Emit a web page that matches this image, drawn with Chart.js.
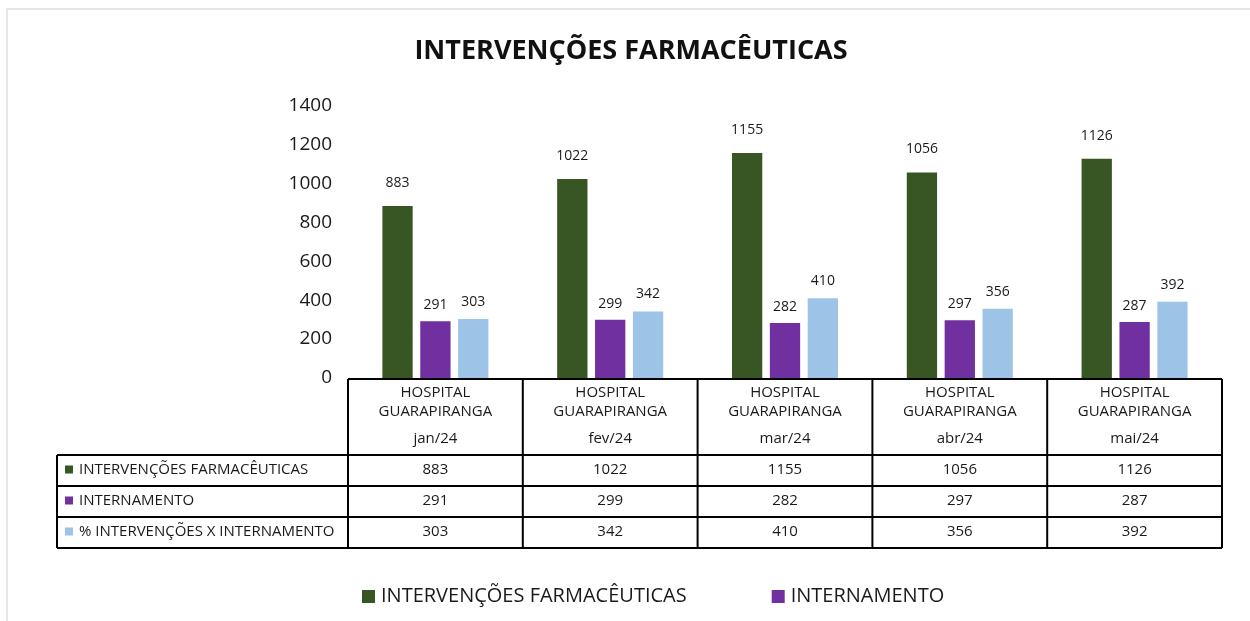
<!DOCTYPE html>
<html>
<head>
<meta charset="utf-8">
<title>Intervenções Farmacêuticas</title>
<script src="https://cdn.jsdelivr.net/npm/chart.js@4.4.1/dist/chart.umd.min.js"></script>
<style>
    html, body { margin: 0; padding: 0; background: #fff; }
    #wrap { position: relative; width: 1250px; height: 621px; }
</style>
</head>
<body>
<div id="wrap"><canvas id="interv_chart"></canvas></div>
<script>
var meses = ["jan/24", "fev/24", "mar/24", "abr/24", "mai/24"];
var hospital = ["HOSPITAL", "GUARAPIRANGA"];
var intervencoes = [883, 1022, 1155, 1056, 1126];
var internamento = [291, 299, 282, 297, 287];
var percIntervInter = [303, 342, 410, 356, 392];
var yTicks = [0, 200, 400, 600, 800, 1000, 1200, 1400];
var seriesNames = ["INTERVENÇÕES FARMACÊUTICAS", "INTERNAMENTO", "% INTERVENÇÕES X INTERNAMENTO"];
var barColors = ["#375623", "#7030A0", "#9DC3E6"];

var fontFamily = "'Open Sans', 'DejaVu Sans', sans-serif";
var textColor = "#1a1a1a";

// labels above the bars, table under the axis, legend at the bottom
var tabelaPlugin = {
    id: "tabelaDados",
    beforeDraw: function(chart) {
        var ctx = chart.ctx;
        ctx.save();
        ctx.fillStyle = "#e6e6e6";
        ctx.fillRect(6, 8, chart.width - 6, 2);
        ctx.fillRect(6, 8, 2, chart.height - 8);
        ctx.restore();
    },
    afterDatasetsDraw: function(chart) {
        var ctx = chart.ctx;
        var offsets = [23, 16, 17];
        ctx.save();
        ctx.font = "14px " + fontFamily;
        ctx.fillStyle = textColor;
        ctx.textAlign = "center";
        ctx.textBaseline = "middle";
        chart.data.datasets.forEach(function(ds, i) {
            var meta = chart.getDatasetMeta(i);
            meta.data.forEach(function(bar, j) {
                ctx.fillText(String(ds.data[j]), bar.x, bar.y - offsets[i]);
            });
        });
        ctx.restore();
    },
    afterDraw: function(chart) {
        var ctx = chart.ctx;
        var ca = chart.chartArea;
        var xs = chart.scales.x;
        var n = meses.length;
        var colW = (ca.right - ca.left) / n;
        var top = ca.bottom + 1;
        var headBottom = 455;
        var rowH = 31;
        var labelLeft = 57;
        var bottom = headBottom + rowH * 3;
        var rows = [intervencoes, internamento, percIntervInter];

        ctx.save();
        ctx.strokeStyle = "#000";
        ctx.lineWidth = 2;
        ctx.beginPath();
        ctx.moveTo(ca.left, top);
        ctx.lineTo(ca.right, top);
        for (var r = 0; r <= 3; r++) {
            ctx.moveTo(labelLeft, headBottom + r * rowH);
            ctx.lineTo(ca.right, headBottom + r * rowH);
        }
        for (var c = 0; c <= n; c++) {
            ctx.moveTo(ca.left + c * colW, top);
            ctx.lineTo(ca.left + c * colW, bottom);
        }
        ctx.moveTo(labelLeft, headBottom);
        ctx.lineTo(labelLeft, bottom);
        ctx.stroke();

        ctx.font = "15px " + fontFamily;
        ctx.fillStyle = textColor;
        ctx.textAlign = "center";
        ctx.textBaseline = "middle";
        for (var k = 0; k < n; k++) {
            var cx = xs.getPixelForValue(k);
            ctx.fillText(hospital[0], cx, 393);
            ctx.fillText(hospital[1], cx, 412);
            ctx.fillText(meses[k], cx, 439);
            for (var r2 = 0; r2 < rows.length; r2++) {
                ctx.fillText(String(rows[r2][k]), cx, headBottom + r2 * rowH + rowH / 2 - 1);
            }
        }

        ctx.textAlign = "left";
        for (var s = 0; s < seriesNames.length; s++) {
            var cy = headBottom + s * rowH + rowH / 2;
            ctx.fillStyle = barColors[s];
            ctx.fillRect(65, cy - 5, 8, 8);
            ctx.fillStyle = textColor;
            ctx.fillText(seriesNames[s], 79, cy - 1);
        }

        // legend (only the first two series appear in the original)
        ctx.font = "20px " + fontFamily;
        var lx = 362;
        var ly = 596;
        for (var li = 0; li < 2; li++) {
            ctx.fillStyle = barColors[li];
            ctx.fillRect(lx, ly - 6, 13, 13);
            ctx.fillStyle = textColor;
            ctx.fillText(seriesNames[li], lx + 19, ly);
            lx += 19 + ctx.measureText(seriesNames[li]).width + 85;
        }
        ctx.restore();
    }
};

new Chart("interv_chart", {
    type: "bar",
    data: {
        labels: meses,
        datasets: [{
                label: seriesNames[0],
                data: intervencoes,
                backgroundColor: barColors[0],
            },
            {
                label: seriesNames[1],
                data: internamento,
                backgroundColor: barColors[1],
            },
            {
                label: seriesNames[2],
                data: percIntervInter,
                backgroundColor: barColors[2],
            },
        ]
    },
    options: {
        responsive: true,
        maintainAspectRatio: false,
        animation: false,
        layout: {
            padding: { top: 0, left: 40, right: 28, bottom: 0 }
        },
        datasets: {
            bar: {
                categoryPercentage: 0.65,
                barPercentage: 0.8,
            }
        },
        plugins: {
            legend: { display: false },
            tooltip: { enabled: false },
            title: {
                display: true,
                text: "INTERVENÇÕES FARMACÊUTICAS",
                color: "#111",
                font: { family: fontFamily, size: 27, weight: "bold" },
                padding: { top: 35, bottom: 38 }
            }
        },
        scales: {
            x: {
                grid: { display: false },
                border: { display: false },
                ticks: { display: false },
                afterFit: function(scale) {
                    scale.height = 243;
                }
            },
            y: {
                min: 0,
                max: 1400,
                grid: { display: false, drawTicks: false },
                border: { display: false },
                ticks: {
                    color: textColor,
                    padding: 16,
                    font: { family: fontFamily, size: 19 },
                    callback: function(value) { return String(value); }
                },
                afterBuildTicks: function(scale) {
                    scale.ticks = yTicks.map(function(v) { return { value: v }; });
                },
                afterFit: function(scale) {
                    scale.width = 308;
                }
            }
        }
    },
    plugins: [tabelaPlugin]
});
</script>
</body>
</html>
